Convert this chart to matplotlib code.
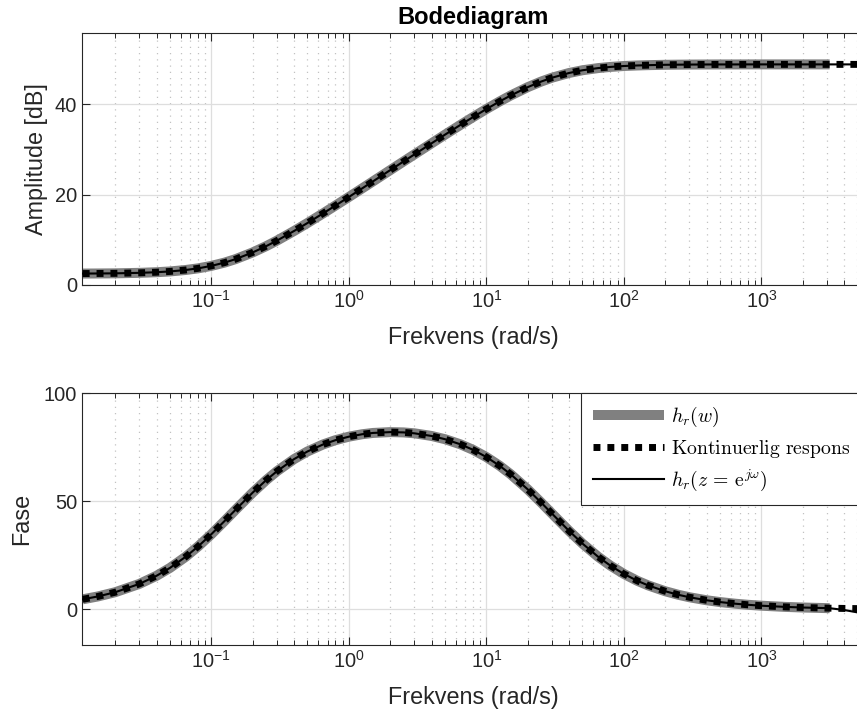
import matplotlib
matplotlib.use('Agg')
import matplotlib.pyplot as plt
from matplotlib.ticker import FixedLocator, FixedFormatter, LogLocator, NullFormatter, NullLocator

plt.rcParams['font.family'] = ['Liberation Sans', 'DejaVu Sans']

# ---- data ----
freq = [0.0116, 0.015, 0.02, 0.03, 0.04, 0.05, 0.065, 0.08, 0.1, 0.125, 0.15, 0.2,
        0.25, 0.3, 0.4, 0.5, 0.65, 0.8, 1, 1.25, 1.5, 2, 2.5, 3, 4, 5, 6.5, 8, 10,
        12.5, 15, 20, 25, 30, 40, 50, 65, 80, 100, 125, 150, 200, 250, 300, 400,
        500, 650, 800, 1000, 1500, 2000, 3000, 3140]
amp_db = [2.53, 2.55, 2.58, 2.69, 2.83, 3.00, 3.32, 3.68, 4.23, 4.96, 5.72, 7.21,
          8.58, 9.82, 11.96, 13.71, 15.85, 17.59, 19.47, 21.38, 22.94, 25.42, 27.34,
          28.90, 31.36, 33.26, 35.45, 37.15, 38.93, 40.62, 41.92, 43.78, 45.01,
          45.87, 46.92, 47.52, 48.00, 48.26, 48.46, 48.58, 48.65, 48.73, 48.76,
          48.78, 48.80, 48.81, 48.81, 48.82, 48.82, 48.82, 48.82, 48.82, 48.82]
phase_deg = [4.64, 5.99, 7.93, 11.79, 15.55, 19.17, 24.31, 29.07, 34.77, 40.92,
             46.07, 54.05, 59.75, 63.93, 69.56, 73.07, 76.33, 78.31, 79.92, 81.05,
             81.65, 82.04, 81.90, 81.48, 80.25, 78.77, 76.36, 73.85, 70.51, 66.45,
             62.58, 55.55, 49.48, 44.34, 36.30, 30.46, 24.35, 20.20, 16.41, 13.25,
             11.11, 8.38, 6.72, 5.60, 4.21, 3.38, 2.60, 2.11, 1.69, 1.13, 0.85,
             0.57, 0.54]

# extension of the continuous and discrete responses beyond the h_r(w) range
freq_ext = [4000, 5000, 5700]
amp_cont_ext = [48.82, 48.82, 48.82]
phase_cont_ext = [0.42, 0.34, 0.30]
amp_disc_ext = [48.82, 48.82, 48.82]
phase_disc_ext = [-0.3, -1.4, -2.2]

labels = [r'$h_r(w)$', r'$\mathrm{Kontinuerlig\ respons}$',
          r'$h_r(z\,=\,\mathrm{e}^{j\omega})$']
xtick_vals = [1e-1, 1e0, 1e1, 1e2, 1e3]
xtick_labels = [r'$\mathregular{10^{-1}}$', r'$\mathregular{10^{0}}$',
                r'$\mathregular{10^{1}}$', r'$\mathregular{10^{2}}$',
                r'$\mathregular{10^{3}}$']

# ---- figure ----
W, H = 857, 717
fig = plt.figure(figsize=(W / 100, H / 100), dpi=100)


def axrect(l, t, r, b):
    return [l / W, 1 - b / H, (r - l) / W, (b - t) / H]


ax1 = fig.add_axes(axrect(82, 33.3, 865, 285))
ax2 = fig.add_axes(axrect(82, 393.3, 865, 645))

fc = freq + freq_ext
series = [
    (ax1, amp_db, amp_db + amp_cont_ext, amp_db + amp_disc_ext),
    (ax2, phase_deg, phase_deg + phase_cont_ext, phase_deg + phase_disc_ext),
]

handles = []
for ax, yg, yc, yd in series:
    ax.set_xscale('log')
    h1, = ax.plot(freq, yg, color='#808080', lw=7.2, solid_capstyle='butt', zorder=2)
    h2, = ax.plot(fc, yc, color='black', lw=5, linestyle=(0, (1, 1)),
                  dash_capstyle='butt', zorder=3)
    h3, = ax.plot(fc, yd, color='black', lw=1.5, zorder=4)
    handles = [h1, h2, h3]
    ax.set_xlim(0.01147, 5675)
    ax.set_axisbelow(True)
    ax.grid(True, which='major', color='#dedede', lw=0.9)
    ax.xaxis.grid(True, which='minor', color='#c2c2c2', lw=0.9, linestyle=(0, (1, 4)))
    ax.xaxis.set_major_locator(FixedLocator(xtick_vals))
    ax.xaxis.set_major_formatter(FixedFormatter(xtick_labels))
    ax.xaxis.set_minor_locator(LogLocator(base=10, subs=[2, 3, 4, 5, 6, 7, 8, 9], numticks=30))
    ax.xaxis.set_minor_formatter(NullFormatter())
    ax.yaxis.set_minor_locator(NullLocator())
    ax.tick_params(which='both', direction='in', top=True, bottom=True, left=True,
                   right=False, colors='#262626', labelsize=14.4)
    ax.tick_params(which='major', length=5.8, width=0.8)
    ax.tick_params(which='minor', length=3.6, width=0.7)
    for sp in ax.spines.values():
        sp.set_color('#262626')
        sp.set_linewidth(0.8)
    ax.set_xlabel('Frekvens (rad/s)', fontsize=16.8, color='#262626', labelpad=10.5)

ax1.set_ylim(0, 55.7)
ax1.set_yticks([0, 20, 40])
ax1.set_ylabel('Amplitude [dB]', fontsize=16.8, color='#262626', labelpad=5)
ax1.set_title('Bodediagram', fontsize=17, fontweight='bold', pad=7)

ax2.set_ylim(-16.5, 100)
ax2.set_yticks([0, 50, 100])
ax2.set_ylabel('Fase', fontsize=16.8, color='#262626', labelpad=8)

leg = ax2.legend(handles, labels, loc='upper left',
                 bbox_to_anchor=(580.7 / W, 1 - 393.3 / H), bbox_transform=fig.transFigure,
                 prop={'size': 14.2, 'math_fontfamily': 'cm'}, frameon=True,
                 fancybox=False, edgecolor='#262626', framealpha=1, borderpad=0.6,
                 handlelength=3.6, handletextpad=0.36, labelspacing=0.42,
                 borderaxespad=0)
leg.get_frame().set_linewidth(0.8)

fig.savefig('out.png', dpi=100)
